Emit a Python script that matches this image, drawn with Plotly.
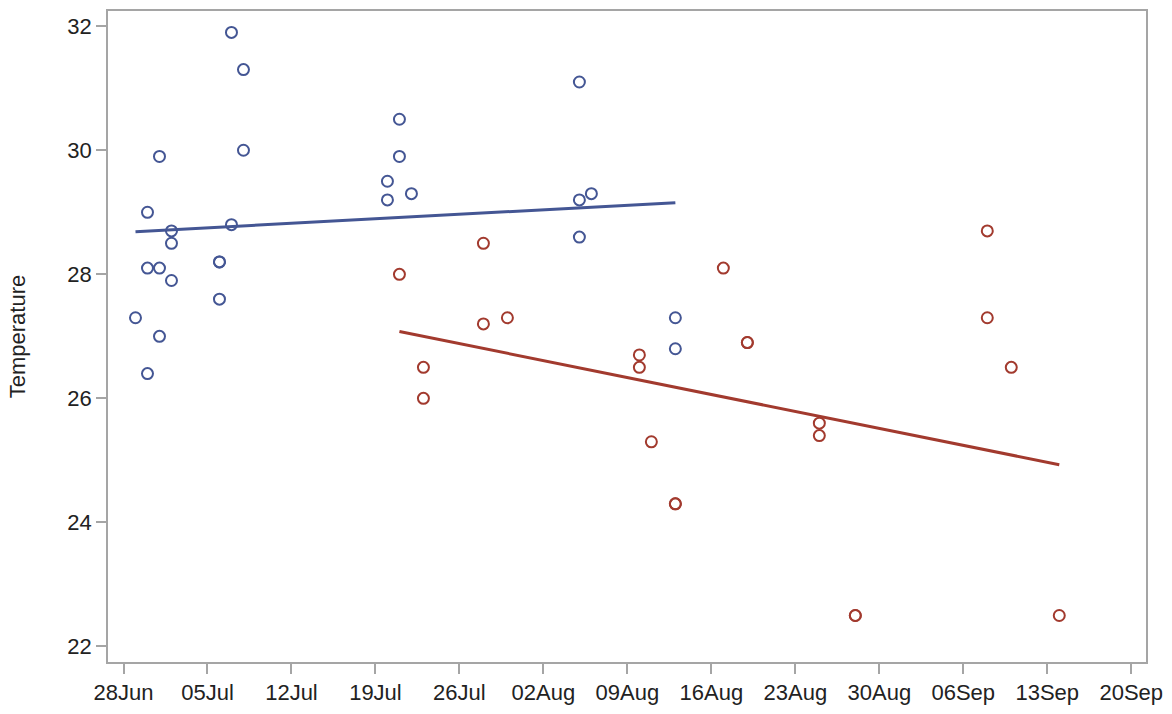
import numpy as np
import pandas as pd
import plotly.graph_objects as go

# ---- data ----
blue_dates = ["2013-06-29",
              "2013-06-30", "2013-06-30", "2013-06-30",
              "2013-07-01", "2013-07-01", "2013-07-01",
              "2013-07-02", "2013-07-02", "2013-07-02",
              "2013-07-06", "2013-07-06", "2013-07-06",
              "2013-07-07", "2013-07-07",
              "2013-07-08", "2013-07-08",
              "2013-07-20", "2013-07-20",
              "2013-07-21", "2013-07-21",
              "2013-07-22",
              "2013-08-05", "2013-08-05", "2013-08-05",
              "2013-08-06",
              "2013-08-13", "2013-08-13"]
blue_temps = [27.3,
              29.0, 28.1, 26.4,
              29.9, 28.1, 27.0,
              28.7, 28.5, 27.9,
              28.2, 28.2, 27.6,
              31.9, 28.8,
              31.3, 30.0,
              29.5, 29.2,
              30.5, 29.9,
              29.3,
              31.1, 29.2, 28.6,
              29.3,
              27.3, 26.8]

red_dates = ["2013-07-21",
             "2013-07-23", "2013-07-23",
             "2013-07-28", "2013-07-28",
             "2013-07-30",
             "2013-08-10", "2013-08-10",
             "2013-08-11",
             "2013-08-13", "2013-08-13",
             "2013-08-17",
             "2013-08-19", "2013-08-19",
             "2013-08-25", "2013-08-25",
             "2013-08-28", "2013-08-28",
             "2013-09-08", "2013-09-08",
             "2013-09-10",
             "2013-09-14"]
red_temps = [28.0,
             26.5, 26.0,
             28.5, 27.2,
             27.3,
             26.7, 26.5,
             25.3,
             24.3, 24.3,
             28.1,
             26.9, 26.9,
             25.6, 25.4,
             22.5, 22.5,
             28.7, 27.3,
             26.5,
             22.5]

tick_dates = ["2013-06-28", "2013-07-05", "2013-07-12", "2013-07-19", "2013-07-26",
              "2013-08-02", "2013-08-09", "2013-08-16", "2013-08-23", "2013-08-30",
              "2013-09-06", "2013-09-13", "2013-09-20"]
tick_labels = ["28Jun", "05Jul", "12Jul", "19Jul", "26Jul", "02Aug", "09Aug",
               "16Aug", "23Aug", "30Aug", "06Sep", "13Sep", "20Sep"]
y_ticks = [22, 24, 26, 28, 30, 32]

BLUE = "#445694"
RED = "#A23A2E"
AXIS = "#A5A5A5"
TEXT = "#222222"
FONT = "Liberation Sans, Arial, sans-serif"
FS = 22


def fit_line(dates, temps):
    d = pd.to_datetime(pd.Series(dates))
    t0 = d.min()
    xs = (d - t0).dt.total_seconds().to_numpy() / 86400.0
    k, b = np.polyfit(xs, np.asarray(temps, float), 1)
    x_end = np.array([xs.min(), xs.max()])
    dates_end = [t0 + pd.Timedelta(days=float(v)) for v in x_end]
    return dates_end, list(k * x_end + b)


fig = go.Figure()
for dates, temps, col in [(blue_dates, blue_temps, BLUE), (red_dates, red_temps, RED)]:
    fig.add_trace(go.Scatter(
        x=dates, y=temps, mode="markers",
        marker=dict(symbol="circle-open", size=11, color=col, line=dict(width=2, color=col)),
        showlegend=False, hoverinfo="x+y"))
for dates, temps, col in [(blue_dates, blue_temps, BLUE), (red_dates, red_temps, RED)]:
    fx, fy = fit_line(dates, temps)
    fig.add_trace(go.Scatter(x=fx, y=fy, mode="lines",
                             line=dict(color=col, width=3), showlegend=False))

fig.update_layout(
    width=1172, height=714,
    margin=dict(l=108, r=24, t=9, b=49),
    paper_bgcolor="white", plot_bgcolor="white",
    font=dict(family=FONT, size=FS, color=TEXT),
)
fig.update_xaxes(
    type="date",
    range=["2013-06-26 17:00", "2013-09-21 05:30"],
    tickmode="array", tickvals=tick_dates, ticktext=tick_labels,
    showgrid=False, zeroline=False,
    showline=True, linecolor=AXIS, linewidth=1.5, mirror=True,
    ticks="outside", ticklen=10, tickcolor=AXIS, tickwidth=1.5,
    tickfont=dict(family=FONT, size=FS, color=TEXT),
)
fig.update_yaxes(
    range=[21.75, 32.245],
    tickmode="array", tickvals=y_ticks, ticktext=[str(v) for v in y_ticks],
    showgrid=False, zeroline=False,
    showline=True, linecolor=AXIS, linewidth=1.5, mirror=True,
    ticks="outside", ticklen=10, tickcolor=AXIS, tickwidth=1.5,
    tickfont=dict(family=FONT, size=FS, color=TEXT),
    title=dict(text="Temperature", font=dict(family=FONT, size=FS, color=TEXT), standoff=36),
)

fig.write_html("out.html")
